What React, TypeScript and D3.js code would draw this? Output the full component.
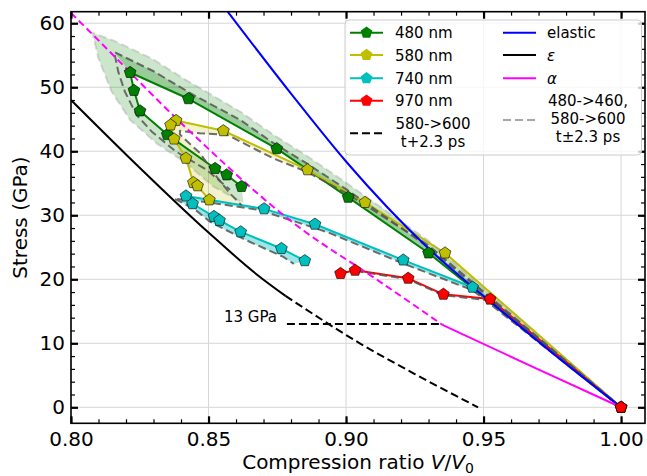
import React, { useEffect, useRef } from 'react';
import * as d3 from 'd3';

type P = [number, number];

// reference curves: [V/V0, stress in GPa]
const elastic: P[] = [[0.857, 61.8], [0.88, 49.0], [0.90, 38.4], [0.93, 24.8], [0.955, 15.6], [0.975, 8.5], [1.0, 0]];
const epsSolid: P[] = [[0.80, 48.0], [0.82, 39.5], [0.85, 27.3], [0.868, 20.6], [0.878, 17.4]];
const epsDash: P[] = [[0.878, 17.4], [0.905, 10.0], [0.925, 5.2], [0.948, 0]];
const alphaDash: P[] = [[0.80, 61.6], [0.8075, 58.4], [0.8415, 43.8], [0.8833, 28.0], [0.91, 20.3], [0.935, 12.9]];
const alphaSolid: P[] = [[0.935, 12.9], [0.9675, 6.4], [1.0, 0]];
const line13: P[] = [[0.8785, 13], [0.9353, 13]];

// measured series
const s480: P[] = [[1.0, 0], [0.930, 24.1], [0.9008, 32.8], [0.8748, 40.4], [0.8427, 48.2], [0.8215, 52.3],
  [0.8229, 49.5], [0.8251, 46.3], [0.835, 42.6], [0.8524, 37.3], [0.8566, 36.3], [0.862, 34.5]];
const s480shift: P[] = [[1.0, 0], [0.93, 25.0], [0.9003, 34.0], [0.8857, 38.1], [0.8735, 41.3], [0.8615, 44.9],
  [0.8445, 48.8], [0.83, 52.5], [0.8157, 55.5], [0.8172, 52.4], [0.8196, 49.3], [0.8238, 45.7], [0.8293, 43.1],
  [0.838, 40.0], [0.8493, 37.1], [0.8578, 34.0]];
const s480outer: P[] = [[1.0, 0], [0.93, 26.0], [0.9003, 35.0], [0.8857, 39.3], [0.8735, 42.6], [0.8615, 46.2],
  [0.8415, 51.2], [0.8293, 54.5], [0.816, 57.2], [0.8078, 58.5], [0.810, 54.5], [0.8148, 49.3], [0.8215, 44.9],
  [0.8312, 41.2], [0.842, 38.1], [0.8517, 34.5], [0.8627, 31.9]];

const s580: P[] = [[1.0, 0], [0.936, 24.1], [0.9069, 32.0], [0.886, 37.1], [0.8554, 43.2], [0.8382, 44.8],
  [0.8362, 44.1], [0.8375, 41.9], [0.8418, 38.9], [0.8445, 35.1], [0.846, 34.6], [0.8503, 32.4]];
const s580shift: P[] = [[1.0, 0], [0.93, 25.3], [0.9003, 33.4], [0.8857, 36.8], [0.8735, 38.9], [0.8566, 42.6],
  [0.8469, 42.8], [0.8396, 43.2], [0.8396, 42.6], [0.8469, 39.7], [0.853, 36.0], [0.8578, 33.4], [0.862, 31.6]];

const s740: P[] = [[1.0, 0], [0.946, 18.75], [0.9208, 23.0], [0.8887, 28.6], [0.8702, 31.0], [0.8418, 33.0],
  [0.8442, 31.8], [0.852, 29.8], [0.854, 29.2], [0.8617, 27.4], [0.8765, 24.8], [0.885, 22.9]];
const s740shift: P[] = [[1.0, 0], [0.946, 18.3], [0.92, 22.6], [0.8942, 27.2], [0.888, 28.1], [0.8687, 30.8],
  [0.8505, 32.0], [0.8375, 32.6], [0.8448, 31.0], [0.8505, 29.0], [0.8627, 26.3], [0.8772, 23.5], [0.881, 22.4]];

const s970: P[] = [[1.0, 0], [0.9524, 16.9], [0.9354, 17.65], [0.9226, 20.15], [0.9033, 21.4], [0.898, 20.9]];
const s970shift: P[] = [[1.0, 0], [0.9524, 16.7], [0.9354, 17.5], [0.9226, 20.0], [0.9033, 21.3]];

const xTicks = [0.80, 0.85, 0.90, 0.95, 1.00];
const yTicks = [0, 10, 20, 30, 40, 50, 60];

const W = 647, H = 476;
const FONT = 'DejaVu Sans';
const GREEN = '#008000', YELLOW = '#bfbf00', CYAN = '#00bfbf', RED = '#ff0000';
const SHIFT = '#555555';

const pentagon = (r: number) =>
  'M' + d3.range(5).map(i => {
    const a = -Math.PI / 2 + i * 2 * Math.PI / 5;
    return [r * Math.cos(a), r * Math.sin(a)].join(',');
  }).join('L') + 'Z';

const draw = (el: SVGSVGElement) => {
  const svg = d3.select(el);
  svg.selectAll('*').remove();

  const left = 71, right = 645, top = 11.7, bottom = 423.3;
  const x = d3.scaleLinear().domain([0.80, 1.0087]).range([left, right]);
  const y = d3.scaleLinear().domain([-2.5, 61.8]).range([bottom, top]);

  svg.append('defs').append('clipPath').attr('id', 'plotclip')
    .append('rect').attr('x', left).attr('y', top).attr('width', right - left).attr('height', bottom - top);

  // grid
  const grid = svg.append('g');
  xTicks.forEach(t => grid.append('line').attr('x1', x(t)).attr('x2', x(t)).attr('y1', top).attr('y2', bottom)
    .attr('stroke', '#d6d6d6').attr('stroke-width', 1));
  yTicks.forEach(t => grid.append('line').attr('x1', left).attr('x2', right).attr('y1', y(t)).attr('y2', y(t))
    .attr('stroke', '#d6d6d6').attr('stroke-width', 1));

  const plot = svg.append('g').attr('clip-path', 'url(#plotclip)');
  const line = d3.line<P>().x(d => x(d[0])).y(d => y(d[1]));
  const smooth = d3.line<P>().x(d => x(d[0])).y(d => y(d[1])).curve(d3.curveMonotoneX);

  const area = (pts: P[], fill: string, op: number) =>
    plot.append('path').attr('d', line(pts) + 'Z').attr('fill', fill).attr('fill-opacity', op).attr('stroke', 'none');

  // shaded bands
  area(s480outer.concat(s480.slice().reverse()), GREEN, 0.2);
  area(s480.slice(0, 6).concat(s480shift.slice(0, 9).reverse()), GREEN, 0.25);
  area(s580.concat(s580shift.slice().reverse()), YELLOW, 0.2);
  area(s740.concat(s740shift.slice().reverse()), CYAN, 0.38);

  const path = (pts: P[], color: string, w: number, dash?: string, gen = line, op = 1) => {
    const p = plot.append('path').attr('d', gen(pts)).attr('fill', 'none').attr('stroke', color)
      .attr('stroke-width', w).attr('stroke-opacity', op).attr('stroke-linejoin', 'round');
    if (dash) p.attr('stroke-dasharray', dash);
    return p;
  };

  // data lines
  path(s480, GREEN, 2);
  path(s580, YELLOW, 2);
  path(s740, CYAN, 2);
  path(s970, RED, 2);

  // time-shifted curves
  path(s480outer, '#a0a0a0', 2, '8,4', line, 0.4);
  path(s480shift, SHIFT, 2, '8,4', line, 0.85);
  path(s580shift, SHIFT, 2, '8,4', line, 0.85);
  path(s740shift, SHIFT, 2, '8,4', line, 0.85);
  path(s970shift, SHIFT, 2, '8,4', line, 0.85);

  // reference curves
  path(elastic, '#0000ff', 2, undefined, smooth);
  path(epsSolid, '#000', 2, undefined, smooth);
  path(epsDash, '#000', 2, '8,4', smooth);
  path(alphaDash, '#ff00ff', 2, '7,4', smooth);
  path(alphaSolid, '#ff00ff', 2, undefined, smooth);
  path(line13, '#000', 2, '8,4');

  // markers
  const marks = (pts: P[], color: string) =>
    plot.append('g').selectAll('path').data(pts).enter().append('path')
      .attr('d', pentagon(6.2))
      .attr('transform', d => `translate(${x(d[0])},${y(d[1])})`)
      .attr('fill', color).attr('stroke', '#000').attr('stroke-width', 0.6);
  marks(s480, GREEN);
  marks(s580, YELLOW);
  marks(s740, CYAN);
  marks(s970, RED);

  svg.append('text').attr('x', 277).attr('y', 322).attr('text-anchor', 'end')
    .attr('font-family', FONT).attr('font-size', 15).text('13 GPa');

  // axes (inward ticks on all sides)
  const minorX = d3.range(80, 101).map(v => v / 100);
  const minorY = d3.range(0, 62, 2);
  const ax = (a: any, tr: string, labels: boolean) => {
    const g = svg.append('g').attr('transform', tr).call(a);
    g.select('.domain').remove();
    g.selectAll('text').attr('font-family', FONT).attr('font-size', 20).attr('fill', '#000');
    if (!labels) g.selectAll('text').remove();
    return g;
  };
  const fmtX = (d: any) => d3.format('.2f')(d);
  ax(d3.axisBottom(x).tickValues(minorX).tickSize(-4).tickFormat(() => ''), `translate(0,${bottom})`, false).selectAll('line').attr('stroke-width', 1.2);
  ax(d3.axisTop(x).tickValues(minorX).tickSize(-4).tickFormat(() => ''), `translate(0,${top})`, false).selectAll('line').attr('stroke-width', 1.2);
  ax(d3.axisLeft(y).tickValues(minorY).tickSize(-4).tickFormat(() => ''), `translate(${left},0)`, false).selectAll('line').attr('stroke-width', 1.2);
  ax(d3.axisRight(y).tickValues(minorY).tickSize(-4).tickFormat(() => ''), `translate(${right},0)`, false).selectAll('line').attr('stroke-width', 1.2);
  ax(d3.axisBottom(x).tickValues(xTicks).tickSize(-7).tickPadding(9).tickFormat(fmtX), `translate(0,${bottom})`, true).selectAll('line').attr('stroke-width', 2.2);
  ax(d3.axisTop(x).tickValues(xTicks).tickSize(-7).tickFormat(fmtX), `translate(0,${top})`, false).selectAll('line').attr('stroke-width', 2.2);
  ax(d3.axisLeft(y).tickValues(yTicks).tickSize(-7).tickPadding(6), `translate(${left},0)`, true).selectAll('line').attr('stroke-width', 2.2);
  ax(d3.axisRight(y).tickValues(yTicks).tickSize(-7), `translate(${right},0)`, false).selectAll('line').attr('stroke-width', 2.2);

  svg.append('rect').attr('x', left).attr('y', top).attr('width', right - left).attr('height', bottom - top)
    .attr('fill', 'none').attr('stroke', '#000').attr('stroke-width', 1.6);

  // axis labels
  const xl = svg.append('text').attr('x', (left + right) / 2).attr('y', 469).attr('text-anchor', 'middle')
    .attr('font-family', FONT).attr('font-size', 20);
  xl.append('tspan').text('Compression ratio ');
  xl.append('tspan').attr('font-style', 'italic').text('V');
  xl.append('tspan').text('/');
  xl.append('tspan').attr('font-style', 'italic').text('V');
  xl.append('tspan').attr('font-size', 14).attr('dy', 4).text('0');

  svg.append('text').attr('transform', `translate(27,${(top + bottom) / 2}) rotate(-90)`)
    .attr('text-anchor', 'middle').attr('font-family', FONT).attr('font-size', 20).text('Stress (GPa)');

  // legend
  const lg = svg.append('g');
  lg.append('rect').attr('x', 345).attr('y', 20).attr('width', 296.5).attr('height', 135).attr('rx', 4)
    .attr('fill', '#fff').attr('fill-opacity', 0.8).attr('stroke', '#cccccc');
  const txt = (tx: number, ty: number, s: string, anchor = 'start', italic = false) =>
    lg.append('text').attr('x', tx).attr('y', ty).attr('text-anchor', anchor).attr('font-family', FONT)
      .attr('font-size', 15).attr('font-style', italic ? 'italic' : 'normal').text(s);
  const sw = (x0: number, cy: number, color: string, dash?: string, w = 2) => {
    const l = lg.append('line').attr('x1', x0).attr('x2', x0 + 33).attr('y1', cy).attr('y2', cy)
      .attr('stroke', color).attr('stroke-width', w);
    if (dash) l.attr('stroke-dasharray', dash);
  };
  const series: [string, string, number][] = [['480 nm', GREEN, 32.7], ['580 nm', YELLOW, 55], ['740 nm', CYAN, 78.3], ['970 nm', RED, 100.7]];
  series.forEach(([name, c, cy]) => {
    sw(350, cy, c);
    lg.append('path').attr('d', pentagon(6.2)).attr('transform', `translate(366.5,${cy})`).attr('fill', c);
    txt(395, cy + 5.5, name);
  });
  sw(350, 133.3, '#000', '8,4');
  txt(433, 128.8, '580->600', 'middle');
  txt(433, 146.5, 't+2.3 ps', 'middle');

  sw(503, 32.7, '#0000ff');
  txt(547, 38.2, 'elastic');
  sw(503, 55, '#000');
  txt(547, 60.5, 'ε', 'start', true);
  sw(503, 78.3, '#ff00ff');
  txt(547, 83.8, 'α', 'start', true);
  sw(503, 120, '#a6a6a6', '8,4');
  txt(588, 106.2, '480->460,', 'middle');
  txt(588, 123.8, '580->600', 'middle');
  txt(588, 141.5, 't±2.3 ps', 'middle');
};

const App = () => {
  const ref = useRef<SVGSVGElement>(null);
  useEffect(() => {
    if (ref.current) draw(ref.current);
  }, []);
  return (
    <svg ref={ref} width={W} height={H}
      style={{ position: 'absolute', left: 0, top: 0, background: '#fff' }} />
  );
};

export default App;
